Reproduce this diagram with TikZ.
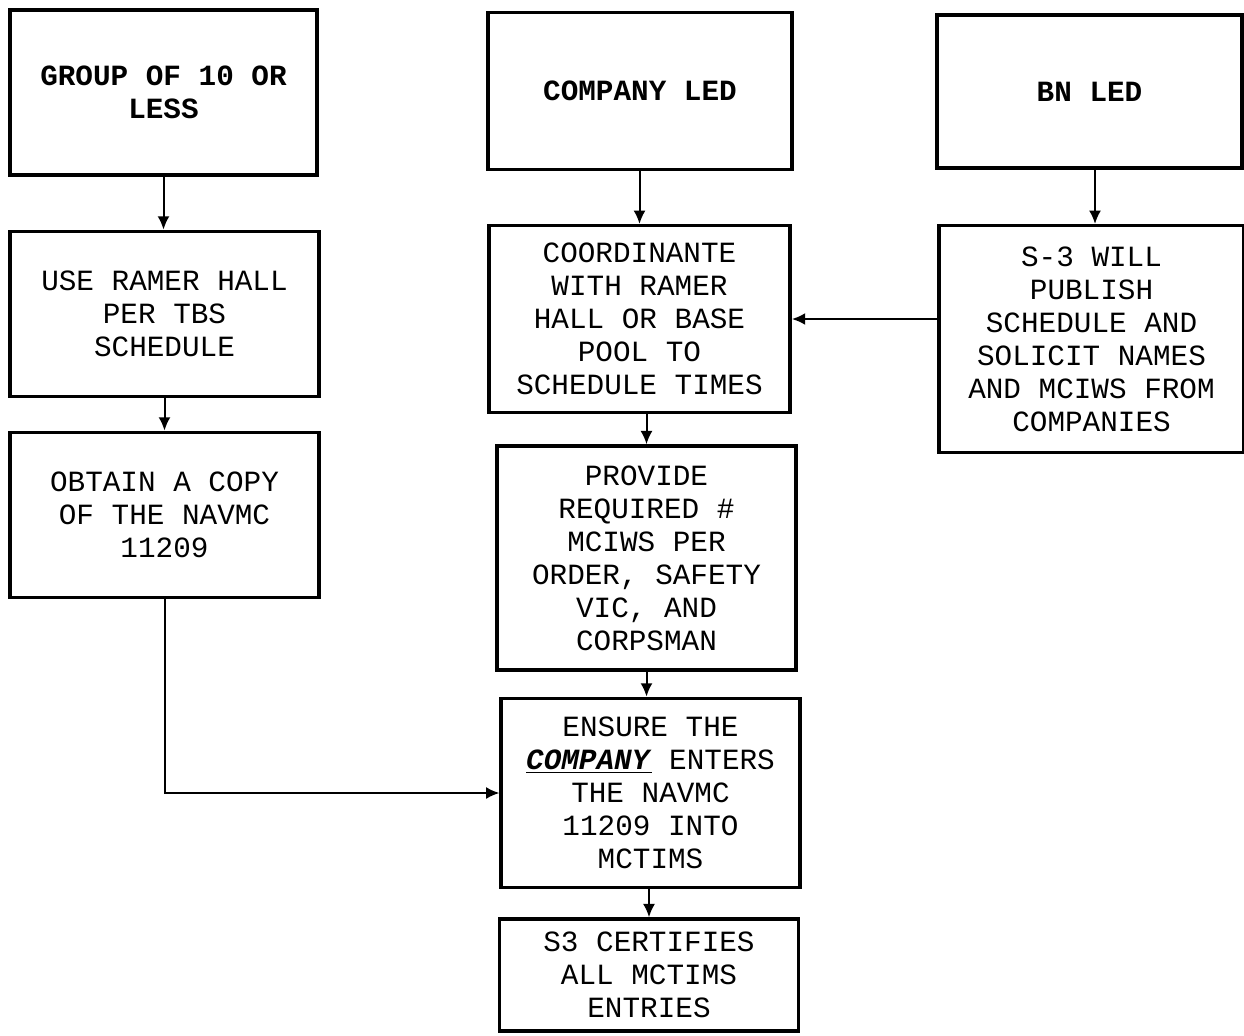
\documentclass[tikz,border=0pt]{standalone}
\usepackage{fontspec}
\setmonofont{Liberation Mono}
\usetikzlibrary{arrows.meta}
\begin{document}
\begin{tikzpicture}[x=0.75pt,y=0.75pt,yscale=-1,xscale=1,
  box/.style={draw, line width=2.6pt, align=center, inner sep=0pt,
    font=\ttfamily\fontsize{22}{24.75}\selectfont},
  headbox/.style={box, font=\ttfamily\bfseries\fontsize{22}{24.75}\selectfont},
  arrow/.style={-{Latex[length=10pt,width=9pt]}, line width=1.5pt, black}]

\useasboundingbox (0, 0) rectangle (1244, 1035);

% top row
\node[headbox, minimum width=230pt, minimum height=124pt] (group) at (163.5, 92.5) {GROUP OF 10 OR\\LESS};
\node[headbox, minimum width=228pt, minimum height=118pt] (company) at (640, 91) {COMPANY LED};
\node[headbox, minimum width=229pt, minimum height=115pt] (bnled) at (1089.5, 91.5) {BN LED};

% left column
\node[box, minimum width=232pt, minimum height=124pt] (ramer) at (164.5, 314) {USE RAMER HALL\\PER TBS\\SCHEDULE};
\node[box, minimum width=232pt, minimum height=124pt] (obtain) at (164.5, 515) {OBTAIN A COPY\\OF THE NAVMC\\11209};

% middle column
\node[box, minimum width=226pt, minimum height=140pt] (coord) at (639.5, 319) {COORDINANTE\\WITH RAMER\\HALL OR BASE\\POOL TO\\SCHEDULE TIMES};
\node[box, minimum width=224pt, minimum height=168pt] (provide) at (646.5, 558) {PROVIDE\\REQUIRED \#\\MCIWS PER\\ORDER, SAFETY\\VIC, AND\\CORPSMAN};
\node[box, minimum width=224pt, minimum height=142pt] (ensure) at (650.5, 793) {ENSURE THE\\\underline{\textbf{\textit{COMPANY}}} ENTERS\\THE NAVMC\\11209 INTO\\MCTIMS};
\node[box, minimum width=224pt, minimum height=84pt] (certify) at (649, 975) {S3 CERTIFIES\\ALL MCTIMS\\ENTRIES};

% right column
\node[box, minimum width=229pt, minimum height=170pt] (swill) at (1091.5, 339) {S-3 WILL\\PUBLISH\\SCHEDULE AND\\SOLICIT NAMES\\AND MCIWS FROM\\COMPANIES};

% arrows
\draw[arrow] (group.south) -- (group.south |- ramer.north);
\draw[arrow] (ramer.south) -- (ramer.south |- obtain.north);
\draw[arrow] (coord.north |- company.south) -- (coord.north);
\draw[arrow] (bnled.south -| 1095, 0) -- (swill.north -| 1095, 0);
\draw[arrow] (provide.north |- coord.south) -- (provide.north);
\draw[arrow] (provide.south) -- (provide.south |- ensure.north);
\draw[arrow] (certify.north |- ensure.south) -- (certify.north);
\draw[arrow] (swill.west |- coord.east) -- (coord.east);
\draw[arrow] (obtain.south) |- (ensure.west);

\end{tikzpicture}
\end{document}
